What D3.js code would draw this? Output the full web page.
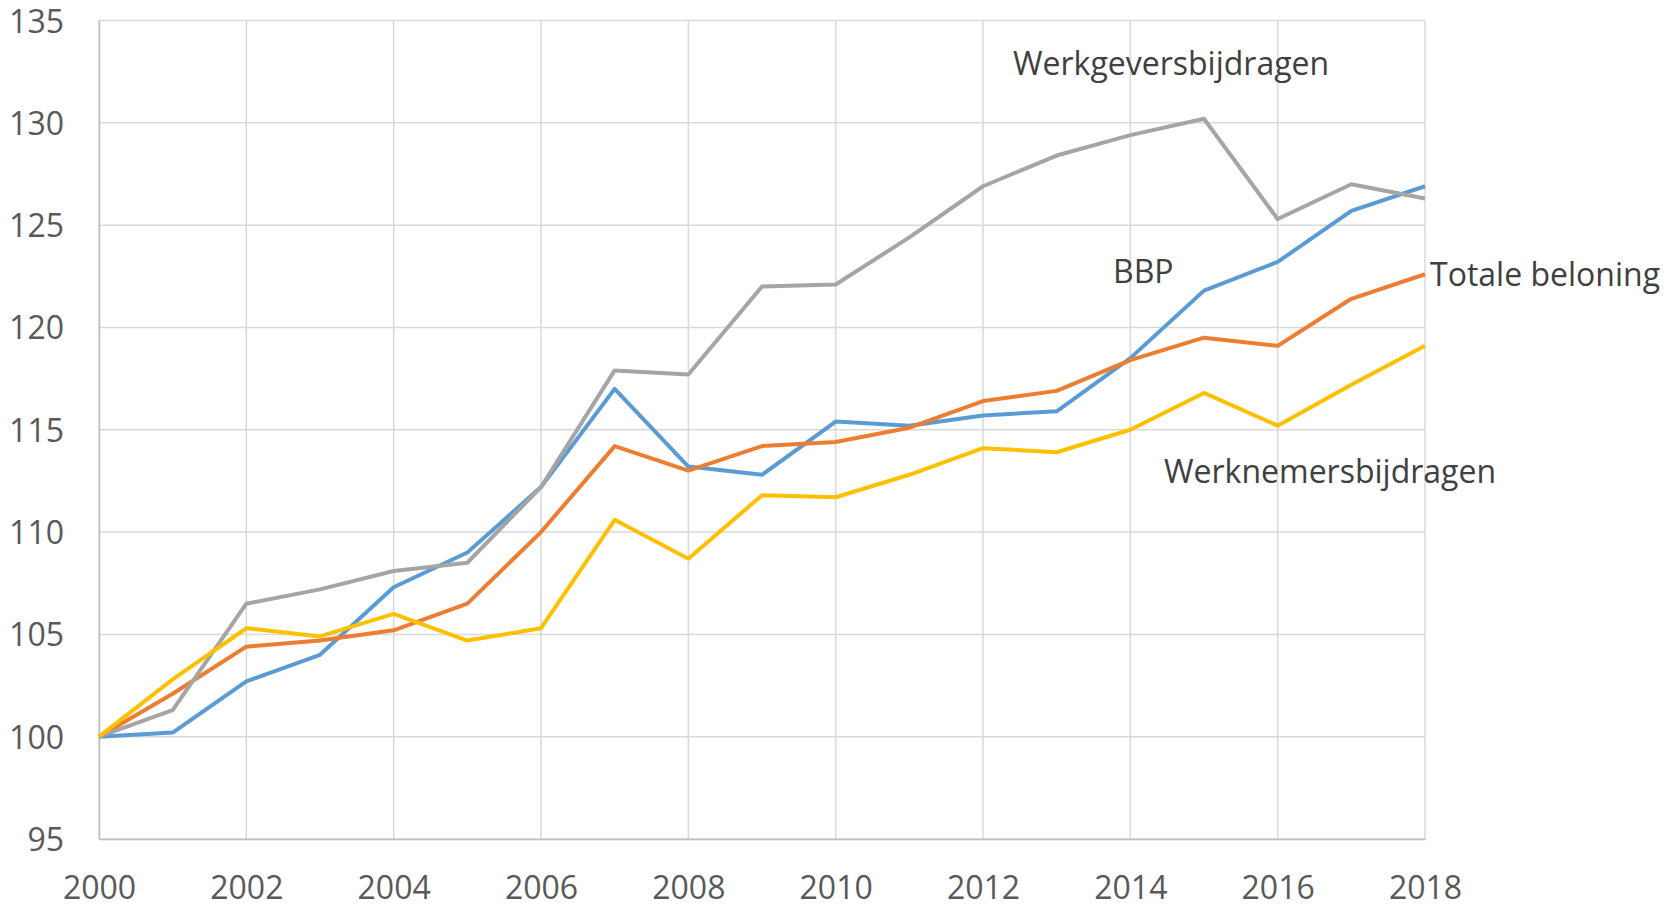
<!DOCTYPE html>
<html>
<head>
<meta charset="utf-8">
<script src="https://d3js.org/d3.v7.min.js"></script>
<style>
  body { margin: 0; background: #fff; }
  text { font-family: "Open Sans", sans-serif; }
</style>
</head>
<body>
<script>

var w = 1672;
var h = 908;

var years = [2000, 2001, 2002, 2003, 2004, 2005, 2006, 2007, 2008, 2009,
             2010, 2011, 2012, 2013, 2014, 2015, 2016, 2017, 2018];

// index 2000 = 100
var bbp = [100, 100.2, 102.7, 104.0, 107.3, 109.0, 112.2, 117.0, 113.2, 112.8,
           115.4, 115.2, 115.7, 115.9, 118.5, 121.8, 123.2, 125.7, 126.9];
var totaleBeloning = [100, 102.1, 104.4, 104.7, 105.2, 106.5, 110.0, 114.2, 113.0, 114.2,
                      114.4, 115.1, 116.4, 116.9, 118.4, 119.5, 119.1, 121.4, 122.6];
var werkgevers = [100, 101.3, 106.5, 107.2, 108.1, 108.5, 112.2, 117.9, 117.7, 122.0,
                  122.1, 124.4, 126.9, 128.4, 129.4, 130.2, 125.3, 127.0, 126.3];
var werknemers = [100, 102.8, 105.3, 104.9, 106.0, 104.7, 105.3, 110.6, 108.7, 111.8,
                  111.7, 112.8, 114.1, 113.9, 115.0, 116.8, 115.2, 117.2, 119.1];

var xTicks = [2000, 2002, 2004, 2006, 2008, 2010, 2012, 2014, 2016, 2018];
var yTicks = [95, 100, 105, 110, 115, 120, 125, 130, 135];

var series = [
  {name: "BBP", values: bbp, color: "#5B9BD5", lx: 1113, ly: 283},
  {name: "Totale beloning", values: totaleBeloning, color: "#ED7D31", lx: 1430, ly: 286},
  {name: "Werkgeversbijdragen", values: werkgevers, color: "#A5A5A5", lx: 1013, ly: 75},
  {name: "Werknemersbijdragen", values: werknemers, color: "#FFC000", lx: 1164, ly: 483}
];

var margin = {top: 20.5, left: 99, right: 247, bottom: 69};

var svg = d3.select("body").append("svg").attr("width", w).attr("height", h);

var x = d3.scaleLinear().domain([2000, 2018]).range([margin.left, w - margin.right]);
var y = d3.scaleLinear().domain([95, 135]).range([h - margin.bottom, margin.top]);

// gridlines
svg.append("g").selectAll("line.hg")
  .data(yTicks).enter().append("line")
  .attr("x1", x(2000)).attr("x2", x(2018))
  .attr("y1", function(d){ return y(d); }).attr("y2", function(d){ return y(d); })
  .attr("stroke", "#D9D9D9").attr("stroke-width", 1.5);

svg.append("g").selectAll("line.vg")
  .data(xTicks).enter().append("line")
  .attr("x1", function(d){ return x(d); }).attr("x2", function(d){ return x(d); })
  .attr("y1", y(135)).attr("y2", y(95))
  .attr("stroke", "#D9D9D9").attr("stroke-width", 1.5);

// axes
var yAxis = svg.append("g")
  .attr("transform", "translate(" + x(2000) + ",0)")
  .call(d3.axisLeft(y).tickValues(yTicks).tickSize(0).tickPadding(35).tickFormat(d3.format("d")));
yAxis.select(".domain").attr("stroke", "#BFBFBF").attr("stroke-width", 1.5);
yAxis.selectAll("text").attr("font-size", "32px").attr("fill", "#595959")
  .attr("font-family", "Open Sans, sans-serif").attr("dy", "0.36em");

var xAxis = svg.append("g")
  .attr("transform", "translate(0," + y(95) + ")")
  .call(d3.axisBottom(x).tickValues(xTicks).tickSize(0).tickPadding(0).tickFormat(d3.format("d")));
xAxis.select(".domain").attr("stroke", "#BFBFBF").attr("stroke-width", 1.5);
xAxis.selectAll("text").attr("font-size", "32px").attr("fill", "#595959")
  .attr("font-family", "Open Sans, sans-serif").attr("dy", null).attr("y", 60);

// lines
var line = d3.line()
  .x(function(d, i){ return x(years[i]); })
  .y(function(d){ return y(d); });

svg.selectAll("path.series")
  .data(series).enter().append("path")
  .attr("class", "series")
  .attr("d", function(d){ return line(d.values); })
  .attr("fill", "none")
  .attr("stroke", function(d){ return d.color; })
  .attr("stroke-width", 4)
  .attr("stroke-linejoin", "round");

// labels
svg.selectAll("text.lbl")
  .data(series).enter().append("text")
  .attr("class", "lbl")
  .attr("x", function(d){ return d.lx; })
  .attr("y", function(d){ return d.ly; })
  .attr("font-size", "32px")
  .attr("fill", "#404040")
  .text(function(d){ return d.name; });

</script>
</body>
</html>
